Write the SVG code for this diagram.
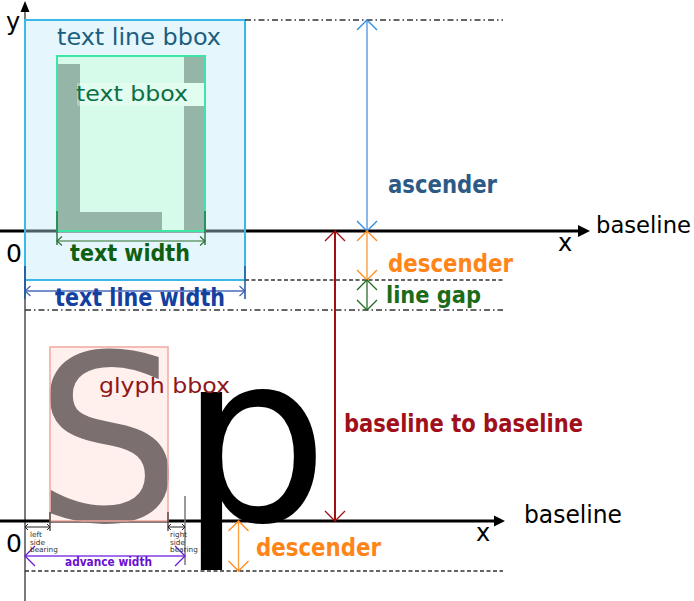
<svg xmlns="http://www.w3.org/2000/svg" width="694" height="601" viewBox="0 0 694 601">
<style>
text{font-family:'DejaVu Sans','Liberation Sans',sans-serif}
.b{font-family:'DejaVu Sans Condensed','DejaVu Sans',sans-serif;font-weight:bold}
.dd{fill:none;stroke:#333;stroke-width:1.4;stroke-dasharray:6,3,1.5,3}
.da{fill:none;stroke:#333;stroke-width:1.4;stroke-dasharray:4,2.5}
.small{font-size:7.3px;fill:#333}
</style>
<defs>
<marker id="mBlue" markerUnits="userSpaceOnUse" viewBox="0 0 24 24" markerWidth="24" markerHeight="24" refX="12" refY="12" orient="auto-start-reverse"><path d="M2,2 L12,12 L2,22" fill="none" stroke="#2a8ae0" stroke-width="1.3"/></marker>
<marker id="mOrange" markerUnits="userSpaceOnUse" viewBox="0 0 24 24" markerWidth="24" markerHeight="24" refX="12" refY="12" orient="auto-start-reverse"><path d="M2,2 L12,12 L2,22" fill="none" stroke="#ff8c1a" stroke-width="1.3"/></marker>
<marker id="mGreen" markerUnits="userSpaceOnUse" viewBox="0 0 24 24" markerWidth="24" markerHeight="24" refX="12" refY="12" orient="auto-start-reverse"><path d="M2,2 L12,12 L2,22" fill="none" stroke="#1e6e1e" stroke-width="1.3"/></marker>
<marker id="mRed" markerUnits="userSpaceOnUse" viewBox="0 0 24 24" markerWidth="24" markerHeight="24" refX="12" refY="12" orient="auto-start-reverse"><path d="M2,2 L12,12 L2,22" fill="none" stroke="#a01010" stroke-width="1.3"/></marker>
<marker id="mPurple" markerUnits="userSpaceOnUse" viewBox="0 0 24 24" markerWidth="24" markerHeight="24" refX="12" refY="12" orient="auto-start-reverse"><path d="M2,2 L12,12 L2,22" fill="none" stroke="#6a1ad8" stroke-width="1.3"/></marker>
<marker id="mSGreen" markerUnits="userSpaceOnUse" viewBox="0 0 12 12" markerWidth="12" markerHeight="12" refX="6" refY="6" orient="auto-start-reverse"><path d="M1,1.5 L6,6 L1,10.5" fill="none" stroke="#2d6e2d" stroke-width="1.1"/></marker>
<marker id="mSBlue" markerUnits="userSpaceOnUse" viewBox="0 0 12 12" markerWidth="12" markerHeight="12" refX="6" refY="6" orient="auto-start-reverse"><path d="M0.5,1 L6,6 L0.5,11" fill="none" stroke="#3a5cb0" stroke-width="1.1"/></marker>
<marker id="mTiny" markerUnits="userSpaceOnUse" viewBox="0 0 8 8" markerWidth="8" markerHeight="8" refX="4" refY="4" orient="auto-start-reverse"><path d="M1,1 L4,4 L1,7" fill="none" stroke="#222" stroke-width="1"/></marker>
</defs>

<rect width="694" height="601" fill="#ffffff"/>

<g id="axes">
  <line x1="25" y1="11" x2="25" y2="601" stroke="#7a7a7a" stroke-width="2"/>
  <path d="M25,1 L29.5,12 L20.5,12 Z" fill="#000"/>
  <text x="6" y="30" font-size="24" fill="#000">y</text>
  <line x1="0" y1="231" x2="580" y2="231" stroke="#000" stroke-width="3"/>
  <path d="M590,231 L578,225 L578,237 Z" fill="#000"/>
  <line x1="0" y1="521" x2="496" y2="521" stroke="#000" stroke-width="3"/>
  <path d="M505,521 L494,515.5 L494,526.5 Z" fill="#000"/>
  <text x="558" y="251" font-size="24" fill="#000">x</text>
  <text x="476" y="541" font-size="24" fill="#000">x</text>
  <text x="6" y="262" font-size="25" fill="#000">0</text>
  <text x="6" y="552" font-size="25" fill="#000">0</text>
  <text x="596" y="233" font-size="23.5" fill="#000" textLength="95" lengthAdjust="spacingAndGlyphs">baseline</text>
  <text x="524" y="523" font-size="24" fill="#000" textLength="98" lengthAdjust="spacingAndGlyphs">baseline</text>
</g>

<g id="text-line-bbox">
  <rect x="25" y="20" width="220" height="260" fill="#c0e8fa" fill-opacity="0.4"/>
  <rect x="25" y="20" width="220" height="260" fill="none" stroke="#3ab8ea" stroke-width="2"/>
  <text x="57" y="45" font-size="23.5" fill="#1a5f80" textLength="164" lengthAdjust="spacingAndGlyphs">text line bbox</text>
</g>

<g id="text-bbox">
  <rect x="57" y="56" width="148" height="175" fill="#d6fbea"/>
  <rect x="58" y="64" width="22" height="167" fill="#94b5a7"/>
  <rect x="58" y="212" width="104" height="19" fill="#94b5a7"/>
  <rect x="184" y="57" width="21" height="26" fill="#94b5a7"/>
  <rect x="184" y="106" width="21" height="125" fill="#94b5a7"/>
  <rect x="77" y="83" width="128" height="23" fill="#ffffff" fill-opacity="0.3"/>
  <rect x="57" y="56" width="148" height="175" fill="none" stroke="#3ee6a6" stroke-width="2"/>
  <text x="76" y="101" font-size="21" fill="#0b7045" textLength="112" lengthAdjust="spacingAndGlyphs">text bbox</text>
</g>

<g id="glyph-S">
  <rect x="50" y="347" width="118" height="174" fill="#fff0ee"/>
  <text x="34.5" y="521" font-size="232" fill="#7b6f6f">S</text>
  <rect x="50" y="347" width="118" height="174" fill="none" stroke="#f0a8a0" stroke-width="1.5"/>
</g>

<g id="glyph-p">
  <text x="179.5" y="521" font-size="235" fill="#000">p</text>
</g>

<g id="glyph-bbox-label">
  <text x="99" y="393" font-size="22" fill="#8e1818" textLength="131" lengthAdjust="spacingAndGlyphs">glyph bbox</text>
</g>

<g id="guides">
  <line x1="245" y1="20" x2="503" y2="20" class="dd"/>
  <line x1="245" y1="280" x2="503" y2="280" class="da"/>
  <line x1="25" y1="310" x2="503" y2="310" class="dd"/>
  <line x1="25" y1="571" x2="503" y2="571" class="da"/>
</g>

<g id="connectors">
  <line x1="367" y1="20" x2="367" y2="231" stroke="#5b9be0" stroke-width="1.4" marker-start="url(#mBlue)" marker-end="url(#mBlue)"/>
  <line x1="367" y1="231" x2="367" y2="280" stroke="#ffa040" stroke-width="1.4" marker-start="url(#mOrange)" marker-end="url(#mOrange)"/>
  <line x1="367" y1="280" x2="367" y2="310" stroke="#3a7a3a" stroke-width="1.4" marker-start="url(#mGreen)" marker-end="url(#mGreen)"/>
  <line x1="335" y1="231" x2="335" y2="521" stroke="#a01010" stroke-width="2" marker-start="url(#mRed)" marker-end="url(#mRed)"/>
  <line x1="238.5" y1="521" x2="238.5" y2="571" stroke="#ffa040" stroke-width="1.4" marker-start="url(#mOrange)" marker-end="url(#mOrange)"/>
  <line x1="57" y1="211" x2="57" y2="245" stroke="#1f6e3a" stroke-width="1.4"/>
  <line x1="205" y1="211" x2="205" y2="245" stroke="#1f6e3a" stroke-width="1.4"/>
  <line x1="57" y1="241" x2="205" y2="241" stroke="#2d6e2d" stroke-width="1.2" marker-start="url(#mSGreen)" marker-end="url(#mSGreen)"/>
  <line x1="25" y1="266" x2="25" y2="299" stroke="#2a5fa0" stroke-width="2"/>
  <line x1="245" y1="266" x2="245" y2="299" stroke="#2a5fa0" stroke-width="1.6"/>
  <line x1="25" y1="291" x2="245" y2="291" stroke="#4a6ab8" stroke-width="1.3" marker-start="url(#mSBlue)" marker-end="url(#mSBlue)"/>
  <line x1="50" y1="512" x2="50" y2="531" stroke="#554444" stroke-width="1.4"/>
  <line x1="168" y1="512" x2="168" y2="531" stroke="#554444" stroke-width="1.4"/>
  <line x1="185" y1="496" x2="185" y2="565" stroke="#777" stroke-width="1.5"/>
  <line x1="25" y1="527" x2="50" y2="527" stroke="#222" stroke-width="1" marker-start="url(#mTiny)" marker-end="url(#mTiny)"/>
  <line x1="168" y1="527" x2="185" y2="527" stroke="#222" stroke-width="1" marker-start="url(#mTiny)" marker-end="url(#mTiny)"/>
  <line x1="25" y1="556" x2="185" y2="556" stroke="#a070ec" stroke-width="2" marker-start="url(#mPurple)" marker-end="url(#mPurple)"/>
</g>

<g id="labels">
  <text class="b" x="388" y="193" font-size="24" fill="#2c5a85" textLength="109" lengthAdjust="spacingAndGlyphs">ascender</text>
  <text class="b" x="388" y="272" font-size="24" fill="#ff8519" textLength="125" lengthAdjust="spacingAndGlyphs">descender</text>
  <text class="b" x="386" y="303" font-size="23" fill="#1b6b1b" textLength="95" lengthAdjust="spacingAndGlyphs">line gap</text>
  <text class="b" x="70" y="261" font-size="23.5" fill="#105f10" textLength="120" lengthAdjust="spacingAndGlyphs">text width</text>
  <text class="b" x="55" y="306" font-size="24" fill="#1440a0" textLength="170" lengthAdjust="spacingAndGlyphs">text line width</text>
  <text class="b" x="344" y="432" font-size="24" fill="#a0101a" textLength="239" lengthAdjust="spacingAndGlyphs">baseline to baseline</text>
  <text class="b" x="256" y="556" font-size="24" fill="#ff8519" textLength="125" lengthAdjust="spacingAndGlyphs">descender</text>
  <text class="b" x="65" y="566" font-size="13" fill="#6a10d0" textLength="87" lengthAdjust="spacingAndGlyphs">advance width</text>
  <text class="small" x="30" y="537">left</text>
  <text class="small" x="30" y="544.5">side</text>
  <text class="small" x="30" y="552">bearing</text>
  <text class="small" x="170" y="537">right</text>
  <text class="small" x="170" y="544.5">side</text>
  <text class="small" x="170" y="552">bearing</text>
</g>
</svg>
